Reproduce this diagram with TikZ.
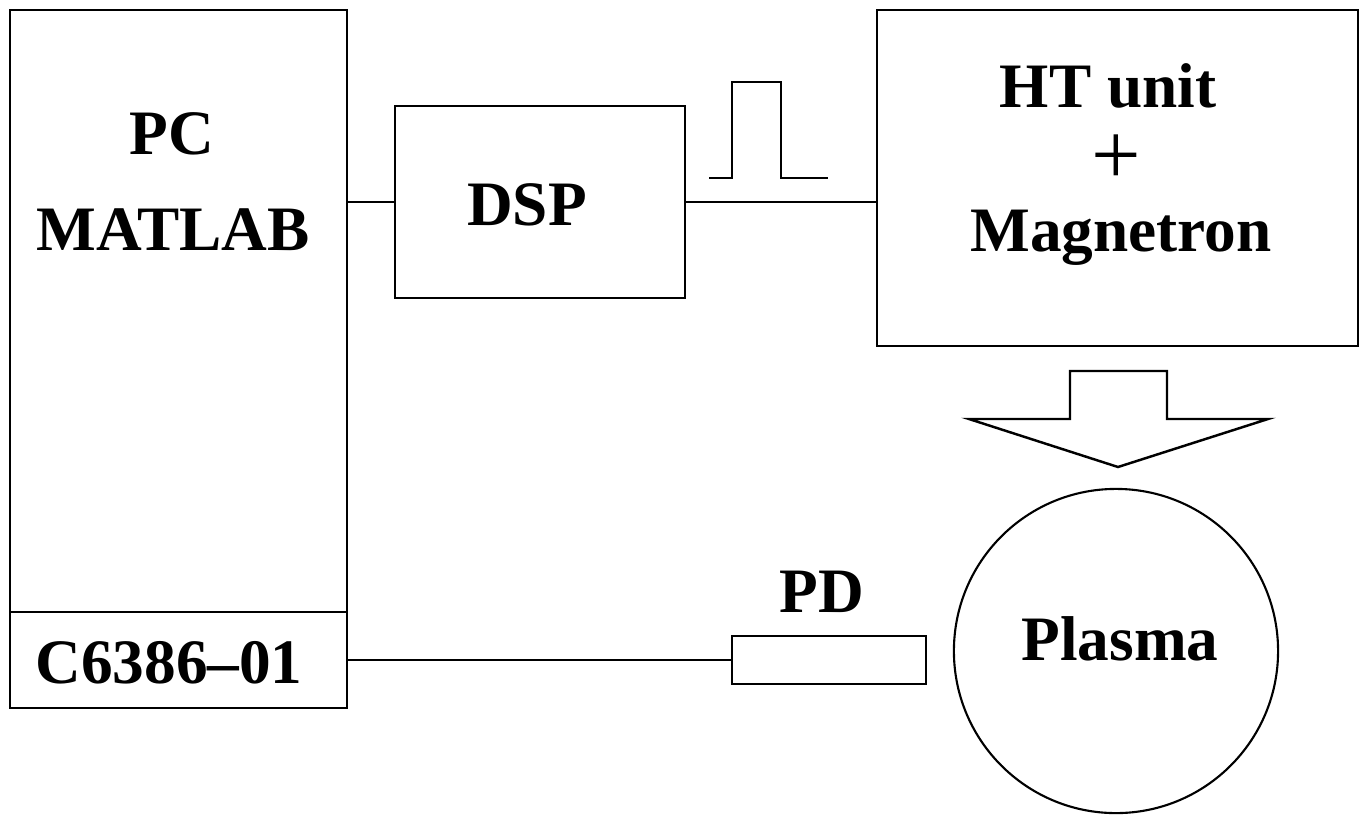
\documentclass[tikz,border=0pt]{standalone}
\usepackage{fontspec}
\setmainfont{Liberation Serif}
\usepackage{tikz}

\begin{document}
\begin{tikzpicture}[x=0.01cm, y=-0.01cm, line width=0.7pt,
    box/.style={draw, rectangle, inner sep=0pt},
    lbl/.style={anchor=base, inner sep=0pt, font=\fontsize{18}{20}\selectfont\bfseries}]
\useasboundingbox (0,0) rectangle (1365,814);

    % PC with the C6386 card below
    \node[box, minimum width=3.37cm, minimum height=6.02cm] (pc) at (178.5,311) {};
    \node[box, minimum width=3.37cm, minimum height=0.96cm] (card) at (178.5,660) {};
    \node[lbl] (pctxt) at (172,154) {PC};
    \node[lbl] (matlab) at (173,250) {MATLAB};
    \node[lbl] (cardtxt) at (169,683) {C6386--01};

    % DSP
    \node[box, minimum width=2.90cm, minimum height=1.92cm] (dsp) at (540,202) {};
    \node[lbl] (dsptxt) at (527,225) {DSP};
    \draw (dsp.west) -- (dsp.west -| pc.east);

    % HT unit
    \node[box, minimum width=4.81cm, minimum height=3.36cm] (ht) at (1117.5,178) {};
    \node[lbl] (httxt) at (1108,107) {HT unit};
    \node[lbl, font=\fontsize{25}{27}\selectfont] (plus) at (1116,184) {+};
    \node[lbl] (magtxt) at (1121,251) {Magnetron};
    \draw (dsp.east) -- (dsp.east -| ht.west);

    % pulse
    \draw (709,178) -- ++(23,0) -- ++(0,-96) -- ++(49,0) -- ++(0,96) -- ++(47,0);

    % microwave arrow
    \draw (1070,371) -- (1167,371) -- (1167,419) -- (1268,419)
        -- (1118,467) -- (969,419) -- (1070,419) -- cycle;

    % plasma and photodiode
    \node[draw, circle, minimum size=3.24cm, inner sep=0pt, line width=0.6pt] (plasma) at (1116,651) {};
    \node[lbl] (plasmatxt) at (1120,660) {Plasma};
    \node[box, minimum width=1.94cm, minimum height=0.48cm] (pd) at (829,660) {};
    \node[lbl] (pdtxt) at (822,612) {PD};
    \draw (card.east) -- (pd.west);
\end{tikzpicture}
\end{document}
